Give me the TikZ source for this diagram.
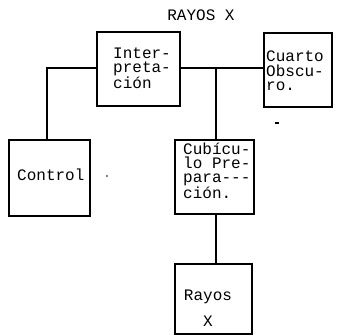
\documentclass[tikz,border=0pt]{standalone}
\usepackage{fontspec}
\newfontfamily\cour{Liberation Mono}
\begin{document}
\begin{tikzpicture}[x=1pt,y=-1pt,
  box/.style={draw=black,line width=1.6pt,rectangle,inner sep=0pt},
  lbl/.style={font=\cour\fontsize{16}{14.5}\selectfont,inner sep=0pt,align=left,text=black},
  conn/.style={draw=black,line width=1.6pt}]
\useasboundingbox (0,0) rectangle (343,336);
% boxes
\node[box,minimum width=83pt,minimum height=74pt] (interp) at (138.5,69) {};
\node[box,minimum width=68pt,minimum height=74pt] (cuarto) at (298,70) {};
\node[box,minimum width=81pt,minimum height=76pt] (control) at (49.5,178) {};
\node[box,minimum width=79pt,minimum height=74pt] (cubic) at (214.5,177) {};
\node[box,minimum width=77pt,minimum height=70pt] (rayos) at (213.5,299) {};
% labels
\node[lbl,anchor=center] (title) at (201,15) {RAYOS X};
\node[lbl,anchor=west] (tinterp) at (113,68) {Inter-\\preta-\\ción};
\node[lbl,anchor=west] (tcuarto) at (266,71) {Cuarto\\Obscu-\\ro.};
\node[lbl,anchor=west] (tcontrol) at (17,175) {Control};
\node[lbl,anchor=west,font=\cour\fontsize{16}{14.2}\selectfont] (tcubic) at (183,171) {Cubícu-\\lo Pre-\\para---\\ción.};
\node[lbl,anchor=center,align=center] (trayos) at (208,308) {Rayos\\[12pt]X};
% connectors
\coordinate (jl) at (47,68);
\coordinate (jr) at (216,68);
\draw[conn] (interp.west |- jl) -- (jl) -- (control.north -| jl);
\draw[conn] (interp.east |- jl) -- (cuarto.west |- jl);
\draw[conn] (jr) -- (cubic.north -| jr);
\draw[conn] (cubic.south -| jr) -- (rayos.north -| jr);
% small marks
\fill[black] (107,176) circle (0.9pt);
\draw[black,line width=1.3pt] (275,123) -- (279,123);
\end{tikzpicture}
\end{document}
